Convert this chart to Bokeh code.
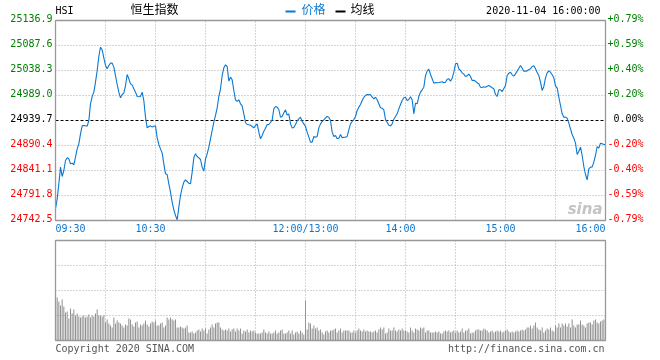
from bokeh.plotting import figure
from bokeh.models import Range1d, Label, BoxAnnotation
from bokeh.embed import file_html
from bokeh.resources import INLINE

# ---------------- data ----------------
price = [
    24765.5, 24785.2, 24814.8, 24847.7, 24829.3, 24841.1, 24860.8, 24866.1, 24864.1, 24854.3,
    24855.6, 24852.3, 24867.4, 24883.8, 24893.7, 24913.4, 24929.2, 24929.8, 24929.2, 24928.5,
    24939.7, 24972.6, 24987.0, 24995.6, 25015.3, 25038.3, 25065.9, 25084.3, 25079.1, 25063.3,
    25048.2, 25041.6, 25048.2, 25052.8, 25052.8, 25044.9, 25028.4, 25010.7, 24995.6, 24984.4,
    24991.0, 24993.6, 25008.7, 25030.4, 25021.9, 25012.0, 25010.0, 25002.2, 24995.6, 24987.0,
    24986.4, 24987.0, 24995.6, 24979.1, 24946.3, 24925.2, 24927.9, 24929.2, 24926.6, 24928.5,
    24929.2, 24905.5, 24892.4, 24883.8, 24875.3, 24854.3, 24834.5, 24833.2, 24814.8, 24798.4,
    24778.7, 24763.5, 24752.4, 24743.8, 24768.8, 24791.8, 24806.9, 24818.1, 24822.7, 24819.4,
    24816.1, 24814.8, 24837.8, 24866.1, 24874.0, 24868.7, 24866.1, 24862.8, 24847.7, 24839.8,
    24864.1, 24874.0, 24887.1, 24903.5, 24920.0, 24936.4, 24949.6, 24964.7, 24987.0, 25002.2,
    25028.4, 25043.6, 25049.5, 25046.2, 25017.3, 25025.2, 25019.9, 24998.9, 24980.5, 24977.2,
    24980.5, 24972.6, 24968.6, 24952.9, 24935.8, 24931.8, 24931.2, 24930.5, 24927.9, 24925.2,
    24929.8, 24933.1, 24916.7, 24903.5, 24910.1, 24918.7, 24924.6, 24931.8, 24931.8, 24935.8,
    24941.0, 24962.7, 24967.3, 24966.0, 24961.4, 24946.3, 24947.6, 24954.8, 24960.7, 24950.2,
    24952.9, 24933.1, 24925.2, 24925.9, 24931.8, 24939.0, 24943.0, 24946.3, 24937.7, 24933.1,
    24927.9, 24916.7, 24906.8, 24897.0, 24897.0, 24908.2, 24906.8, 24908.2, 24925.2, 24933.1,
    24937.7, 24941.0, 24945.0, 24947.6, 24946.3, 24939.7, 24916.7, 24908.2, 24910.1, 24903.5,
    24904.9, 24912.1, 24905.5, 24906.8, 24906.8, 24908.2, 24921.3, 24933.1, 24937.7, 24941.7,
    24947.6, 24959.4, 24966.0, 24971.3, 24979.1, 24985.1, 24989.0, 24991.0, 24990.3, 24991.0,
    24985.7, 24982.4, 24985.7, 24980.5, 24972.6, 24964.7, 24964.0, 24960.7, 24941.7, 24936.4,
    24930.5, 24929.2, 24933.1, 24942.3, 24947.6, 24952.9, 24962.7, 24971.3, 24979.1, 24984.4,
    24985.7, 24979.1, 24981.1, 24986.4, 24980.5, 24952.9, 24973.9, 24972.6, 24987.0, 24995.6,
    25000.2, 25005.4, 25028.4, 25037.0, 25040.9, 25030.4, 25021.9, 25013.3, 25014.6, 25014.0,
    25014.6, 25015.3, 25016.0, 25014.0, 25015.3, 25021.2, 25021.9, 25017.3, 25023.2, 25035.0,
    25051.4, 25052.8, 25041.6, 25038.3, 25033.7, 25031.1, 25026.5, 25027.8, 25031.1, 25026.5,
    25018.6, 25019.2, 25017.3, 25014.0, 25012.0, 25005.4, 25004.8, 25006.1, 25005.4, 25007.4,
    25008.7, 25006.8, 25004.1, 25002.2, 24991.0, 24987.0, 25000.2, 25000.2, 24996.9, 25002.8,
    25008.7, 25028.4, 25033.0, 25035.0, 25029.8, 25027.1, 25031.7, 25037.0, 25042.9, 25048.2,
    25042.9, 25037.0, 25037.0, 25037.6, 25040.3, 25041.6, 25046.2, 25047.5, 25041.6, 25034.4,
    25028.4, 25015.3, 24998.9, 25006.8, 25023.8, 25033.7, 25037.6, 25035.0, 25029.8, 25023.8,
    25008.1, 25004.1, 24985.7, 24969.3, 24952.9, 24946.3, 24946.3, 24944.3, 24934.4, 24923.3,
    24912.1, 24904.9, 24895.0, 24872.7, 24879.2, 24887.1, 24870.7, 24849.0, 24833.2, 24822.7,
    24844.4, 24847.7, 24848.3, 24857.5, 24870.7, 24888.4, 24885.1, 24895.0, 24893.7, 24892.4, 24892.4,
]

volume = [
    45, 43, 39, 35, 41, 34, 28, 29, 22, 32, 27, 31, 25, 27, 24, 23, 24, 25, 23, 24, 26, 23, 25, 24, 27, 31, 25, 25, 24, 25,
    18, 21, 17, 15, 13, 23, 17, 20, 18, 17, 15, 13, 16, 15, 22, 21, 16, 14, 18, 19, 13, 16, 15, 17, 20, 16, 14, 17, 19, 18,
    20, 15, 15, 17, 18, 13, 15, 23, 21, 23, 21, 20, 21, 13, 13, 14, 13, 12, 13, 15, 8, 8, 9, 7, 8, 10, 11, 9, 12, 10,
    12, 7, 11, 13, 16, 13, 17, 18, 18, 13, 11, 10, 11, 10, 12, 9, 11, 12, 9, 12, 10, 12, 7, 10, 9, 11, 8, 10, 9, 10,
    8, 7, 7, 7, 8, 11, 8, 7, 9, 7, 7, 8, 10, 7, 8, 10, 11, 7, 7, 8, 10, 7, 10, 6, 8, 9, 7, 10, 8, 6,
    40, 11, 18, 17, 12, 15, 12, 13, 10, 11, 8, 6, 9, 10, 8,
    10, 10, 11, 12, 8, 10, 12, 8, 10, 10, 10, 10, 8, 8, 10,
    8, 10, 12, 10, 9, 11, 9, 10, 9, 9, 8, 9, 10, 8, 11, 13, 11, 13, 7, 8, 12, 10, 10, 13, 10, 9, 11, 10, 12, 10,
    10, 9, 8, 13, 10, 8, 12, 11, 10, 13, 12, 13, 8, 10, 10, 8, 8, 8, 9, 8, 9, 7, 7, 9, 10, 9, 10, 8, 9, 10,
    8, 10, 8, 9, 12, 8, 10, 10, 12, 7, 8, 8, 10, 11, 11, 10, 10, 12, 11, 10, 8, 9, 10, 8, 9, 10, 9, 10, 8, 9,
    10, 11, 9, 8, 9, 8, 9, 10, 9, 10, 11, 10, 11, 13, 13, 15, 12, 15, 18, 13, 11, 10, 13, 8, 10, 12, 11, 13, 10, 9,
    15, 13, 17, 13, 17, 15, 17, 14, 17, 13, 21, 15, 13, 16, 16, 20, 16, 15, 13, 17, 18, 18, 16, 20, 21, 18, 17, 19, 20, 21, 22,
]

minute = list(range(len(price)))          # trading minute index, 0 = 09:30, 330 = 16:00

prev_close = 24939.7
price_ticks = [25136.9, 25087.6, 25038.3, 24989.0, 24939.7, 24890.4, 24841.1, 24791.8, 24742.5]
price_tick_labels = ["25136.9", "25087.6", "25038.3", "24989.0", "24939.7",
                     "24890.4", "24841.1", "24791.8", "24742.5"]
pct_tick_labels = ["+0.79%", "+0.59%", "+0.40%", "+0.20%", "0.00%",
                   "-0.20%", "-0.40%", "-0.59%", "-0.79%"]
time_ticks = [0, 60, 150, 210, 270, 330]
time_tick_labels = ["09:30", "10:30", "12:00/13:00", "14:00", "15:00", "16:00"]
grid_minutes = [30, 60, 90, 120, 150, 180, 210, 240, 270, 300]
volume_max = 100
volume_grid = [25, 50, 75]

title_code = "HSI"
title_name = "恒生指数"
legend_price = "价格"
legend_avg = "均线"
timestamp = "2020-11-04 16:00:00"
copyright_text = "Copyright 2020 SINA.COM"
url_text = "http://finance.sina.com.cn"

# ---------------- style / layout ----------------
MONO = "DejaVu Sans Mono"
CJK = "Noto Sans CJK SC"
BLUE = "#0a78d2"
GREEN = "#008000"
RED = "#ff0000"
GRID = "#aaaaaa"
BORDER = "#999999"
LIFT = 3.5                       # baseline correction for mono labels (px)

W, H = 660, 360
LEFT, RIGHT = 55, 605            # plot area edges (px)
P_TOP, P_BOT = 20, 220           # price panel (px)
V_TOP, V_BOT = 240, 340          # volume panel (px)

x0, x1 = minute[0], minute[-1]
ppx = (x1 - x0) / (RIGHT - LEFT)                       # minutes per pixel
pmin, pmax = price_ticks[-1], price_ticks[0]
ppy = (pmax - pmin) / (P_BOT - P_TOP)                  # price per pixel
vpy = volume_max / (V_BOT - V_TOP)                     # volume per pixel

p = figure(width=W, height=H,
           x_range=Range1d(x0 - LEFT * ppx, x1 + (W - RIGHT) * ppx),
           y_range=Range1d(pmin - (H - P_BOT) * ppy, pmax + P_TOP * ppy),
           x_axis_type=None, y_axis_type=None,
           toolbar_location=None, output_backend="svg",
           min_border=0, min_border_left=0, min_border_right=0,
           min_border_top=0, min_border_bottom=0,
           styles={"position": "fixed", "left": "0px", "top": "0px"})
p.extra_y_ranges = {"vol": Range1d(-(H - V_BOT) * vpy, volume_max + V_TOP * vpy)}
p.outline_line_color = None
p.background_fill_color = "white"
p.border_fill_color = "white"

# ---- price panel: grid, baseline, line, box
hticks = [t for t in price_ticks[1:-1] if t != prev_close]
p.segment(x0=grid_minutes, x1=grid_minutes, y0=[pmin] * len(grid_minutes), y1=[pmax] * len(grid_minutes),
          line_color=GRID, line_dash="1 2", line_width=1)
p.segment(x0=[x0] * len(hticks), x1=[x1] * len(hticks), y0=hticks, y1=hticks,
          line_color=GRID, line_dash="1 2", line_width=1)
p.segment(x0=[x0], x1=[x1], y0=[prev_close], y1=[prev_close],
          line_color="black", line_dash="3 2", line_width=1)
p.line(minute, price, line_color=BLUE, line_width=1.1)
p.quad(left=[x0], right=[x1], bottom=[pmin], top=[pmax], fill_color=None,
       line_color=BORDER, line_width=1.3)

# ---- volume panel
p.segment(x0=grid_minutes, x1=grid_minutes, y0=[0] * len(grid_minutes), y1=[volume_max] * len(grid_minutes),
          line_color=GRID, line_dash="1 2", line_width=1, y_range_name="vol")
p.segment(x0=[x0] * len(volume_grid), x1=[x1] * len(volume_grid), y0=volume_grid, y1=volume_grid,
          line_color=GRID, line_dash="1 2", line_width=1, y_range_name="vol")
p.vbar(x=minute, top=volume, bottom=0, width=0.62, fill_color="#939393", line_color=None,
       y_range_name="vol")
p.quad(left=[x0], right=[x1], bottom=[0], top=[volume_max], fill_color=None,
       line_color=BORDER, line_width=1.3, y_range_name="vol")

# ---- price / percent tick labels
for v, lt, rt in zip(price_ticks, price_tick_labels, pct_tick_labels):
    c = GREEN if v > prev_close else (RED if v < prev_close else "black")
    p.add_layout(Label(x=x0, y=v, text=lt, text_align="right", text_baseline="alphabetic",
                       x_offset=-3, y_offset=-1 + LIFT, text_font=MONO, text_font_size="10px",
                       text_color=c))
    p.add_layout(Label(x=x1, y=v, text=rt, text_align="left", text_baseline="alphabetic",
                       x_offset=2 if v != prev_close else 8, y_offset=-1 + LIFT, text_font=MONO,
                       text_font_size="10px", text_color=c))

# ---- time labels
for i, (t, lab) in enumerate(zip(time_ticks, time_tick_labels)):
    if i == 0:
        align, off = "left", 0
    elif i == len(time_ticks) - 1:
        align, off = "right", 0
    elif "/" in lab:
        align, off = "center", 0
    else:
        align, off = "center", -5
    p.add_layout(Label(x=t, y=pmin, text=lab, text_align=align,
                       text_baseline="alphabetic", x_offset=off, y_offset=-11 + LIFT,
                       text_font=MONO, text_font_size="10px", text_color=BLUE))

# ---- header row
p.add_layout(Label(x=x0, y=pmax, text=title_code, text_align="left", text_baseline="alphabetic",
                   y_offset=7 + LIFT, text_font=MONO, text_font_size="10px", text_color="black"))
p.add_layout(Label(x=60, y=pmax, text=title_name, text_align="center", text_baseline="middle",
                   x_offset=-1, y_offset=12, text_font=CJK, text_font_size="12px",
                   text_color="black"))
p.add_layout(Label(x=147.6, y=pmax, text=legend_price, text_align="left", text_baseline="middle",
                   y_offset=12, text_font=CJK, text_font_size="12px", text_color=BLUE))
p.add_layout(Label(x=177, y=pmax, text=legend_avg, text_align="left", text_baseline="middle",
                   y_offset=12, text_font=CJK, text_font_size="12px", text_color="black"))
p.add_layout(Label(x=x1, y=pmax, text=timestamp, text_align="right", text_baseline="alphabetic",
                   x_offset=-5, y_offset=7 + LIFT, text_font=MONO, text_font_size="10px",
                   text_color="black"))
p.add_layout(BoxAnnotation(left=138, right=144, bottom=pmax + 8 * ppy, top=pmax + 10 * ppy,
                           fill_color=BLUE, fill_alpha=1, line_color=None))
p.add_layout(BoxAnnotation(left=168, right=174, bottom=pmax + 8 * ppy, top=pmax + 10 * ppy,
                           fill_color="black", fill_alpha=1, line_color=None))

# ---- watermark
p.add_layout(Label(x=x1, y=pmin, text="sina", text_align="right",
                   text_baseline="alphabetic", x_offset=-3, y_offset=8 + LIFT,
                   text_font="DejaVu Sans", text_font_style="bold italic",
                   text_font_size="15px", text_color="#c4c4c4"))

# ---- footer
p.add_layout(Label(x=x0, y=0, y_range_name="vol", text=copyright_text, text_align="left",
                   text_baseline="alphabetic", y_offset=-11 + LIFT, text_font=MONO,
                   text_font_size="10px", text_color="#555555"))
p.add_layout(Label(x=x1, y=0, y_range_name="vol", text=url_text, text_align="right",
                   text_baseline="alphabetic", x_offset=-1, y_offset=-11 + LIFT, text_font=MONO,
                   text_font_size="10px", text_color="#555555"))

open("out.html", "w").write(file_html(p, INLINE))
